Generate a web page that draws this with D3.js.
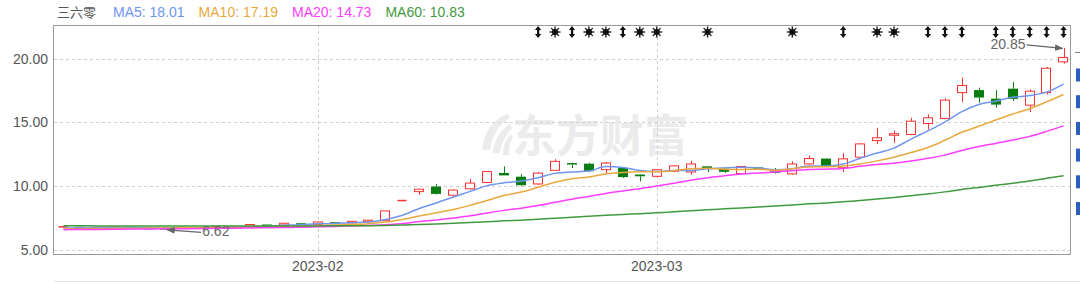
<!DOCTYPE html>
<html><head><meta charset="utf-8">
<script src="https://cdn.jsdelivr.net/npm/d3@7"></script>
<style>body{margin:0;background:#fff;overflow:hidden}svg{display:block;font-family:"Liberation Sans",Arial,sans-serif}</style>
</head><body><svg id="c" width="1080" height="283"></svg>
<script>
// ---- data ----
const stockName = "三六零";
const dates = ["01-04","01-05","01-06","01-09","01-10","01-11","01-12","01-13","01-16","01-17",
"01-18","01-19","01-20","01-30","01-31","02-01","02-02","02-03","02-06","02-07",
"02-08","02-09","02-10","02-13","02-14","02-15","02-16","02-17","02-20","02-21",
"02-22","02-23","02-24","02-27","02-28","03-01","03-02","03-03","03-06","03-07",
"03-08","03-09","03-10","03-13","03-14","03-15","03-16","03-17","03-20","03-21",
"03-22","03-23","03-24","03-27","03-28","03-29","03-30","03-31","04-03","04-04"];
const open = [6.74,6.82,6.78,6.76,6.79,6.74,6.72,6.70,6.76,6.76,
6.84,6.86,7.00,6.96,7.10,7.00,7.18,7.13,7.22,7.30,
8.88,9.58,9.98,9.30,9.80,10.30,11.04,10.75,10.18,11.25,
11.82,11.77,11.30,11.43,10.92,10.78,11.18,11.12,11.56,11.38,
11.00,11.48,11.17,10.97,11.75,12.17,11.45,12.28,13.58,14.00,
14.06,14.92,15.32,17.34,17.54,16.87,17.65,16.36,17.34,19.75];
const high = [6.86,6.84,6.82,6.82,6.80,6.78,6.75,6.78,6.80,6.86,
6.88,7.02,7.02,7.12,7.12,7.22,7.20,7.28,7.36,8.07,
8.88,9.77,10.17,9.75,10.57,11.20,11.56,10.95,11.10,12.12,
11.85,11.85,11.90,11.50,10.95,11.35,11.65,12.00,11.60,11.50,
11.60,11.52,11.43,11.95,12.40,12.20,12.61,13.40,14.58,14.37,
15.37,15.63,16.90,18.52,17.73,17.54,18.17,17.60,19.35,20.85];
const low = [6.70,6.76,6.74,6.74,6.72,6.70,6.62,6.68,6.72,6.74,
6.80,6.84,6.94,6.94,7.02,6.98,7.08,7.10,7.20,7.26,
8.88,9.33,9.35,9.25,9.75,10.25,10.85,10.00,10.10,11.20,
11.43,11.10,11.04,10.65,10.38,10.70,11.10,10.90,11.12,11.05,
10.95,11.30,11.00,10.90,11.70,11.50,11.12,12.20,13.32,13.40,
14.00,14.45,15.25,16.60,16.55,16.16,16.68,15.81,17.20,19.62];
const close = [6.82,6.78,6.76,6.79,6.74,6.72,6.70,6.76,6.74,6.84,
6.82,7.00,6.96,7.10,7.04,7.20,7.12,7.25,7.34,8.07,
8.88,9.77,9.40,9.70,10.25,11.15,10.85,10.08,11.03,11.95,
11.70,11.18,11.82,10.72,10.78,11.30,11.60,11.75,11.40,11.13,
11.55,11.36,11.05,11.75,12.17,11.57,12.15,13.32,13.80,14.12,
15.10,15.37,16.75,17.90,16.95,16.40,16.85,17.45,19.25,20.10];
const ma5 = [6.72,6.74,6.76,6.77,6.78,6.76,6.74,6.74,6.73,6.75,
6.77,6.83,6.87,6.94,6.98,7.06,7.08,7.14,7.19,7.40,
7.73,8.26,8.69,9.16,9.60,10.05,10.27,10.41,10.67,11.01,
11.12,11.19,11.54,11.47,11.24,11.16,11.24,11.23,11.37,11.44,
11.49,11.44,11.30,11.37,11.58,11.58,11.74,12.19,12.60,12.99,
13.70,14.34,15.03,15.85,16.41,16.67,16.97,17.11,17.38,18.01];
const ma10 = [6.66,6.67,6.69,6.70,6.71,6.72,6.73,6.74,6.75,6.77,
6.77,6.79,6.81,6.84,6.87,6.92,6.96,7.01,7.07,7.19,
7.40,7.67,7.92,8.18,8.50,8.89,9.27,9.55,9.92,10.31,
10.59,10.73,10.97,11.07,11.13,11.14,11.22,11.38,11.42,11.34,
11.32,11.34,11.26,11.37,11.51,11.53,11.59,11.75,11.99,12.28,
12.64,13.04,13.61,14.23,14.70,15.19,15.66,16.07,16.61,17.19];
const ma20 = [6.60,6.61,6.62,6.63,6.64,6.65,6.66,6.67,6.68,6.70,
6.71,6.73,6.75,6.77,6.79,6.82,6.85,6.89,6.93,6.98,
7.08,7.23,7.36,7.51,7.68,7.91,8.11,8.28,8.49,8.75,
8.99,9.20,9.44,9.63,9.81,10.02,10.24,10.47,10.67,10.82,
10.96,11.04,11.12,11.22,11.32,11.34,11.40,11.56,11.70,11.81,
11.98,12.19,12.44,12.80,13.11,13.36,13.62,13.91,14.30,14.73];
const ma60 = [6.90,6.90,6.89,6.89,6.89,6.88,6.88,6.88,6.88,6.88,
6.88,6.88,6.88,6.89,6.89,6.89,6.90,6.90,6.91,6.93,
6.96,7.01,7.05,7.10,7.15,7.22,7.29,7.34,7.41,7.49,
7.57,7.64,7.72,7.79,7.85,7.92,8.00,8.08,8.16,8.23,
8.30,8.38,8.45,8.53,8.62,8.69,8.78,8.89,9.00,9.12,
9.26,9.40,9.56,9.75,9.91,10.07,10.24,10.41,10.62,10.83];
const maNames = ["MA5","MA10","MA20","MA60"];
const yTicks = [5,10,15,20];
const xTickIdx = [15,35];
const xTickLabels = ["2023-02","2023-03"];
const markerIdx = [28,29,30,31,32,33,34,35,38,43,46,48,49,51,52,53,55,56,57,58,59];
const markerType = ["a","s","a","s","s","a","s","s","s","s","a","s","s","a","a","a","a","a","a","a","a"];
const sideBars = [0,1,2,3,4,5];

// ---- drawing ----
const svg = d3.select("#c");
const P = {l:54, t:25, r:1070, b:254};
const colors = {ma:["#6f95f2","#e8a83c","#ff3cff","#3f9a3f"], up:"#ff3030", down:"#0a7d12", text:"#555"};
const maData = [ma5, ma10, ma20, ma60];

const x = d3.scaleBand().domain(d3.range(dates.length)).range([55,1072]).paddingInner(0.4).paddingOuter(0.2);
const cx = i => x(i) + x.bandwidth()/2;
const y = d3.scaleLinear().domain([4.69, 22.64]).range([P.b, P.t]);

// watermark
const wm = svg.append("g").attr("fill","#ebebeb");
wm.append("path").attr("d","M508,114 C494,118 484,132 482,150 L490,150 C492,136 499,124 510,118 Z M510,124 C500,130 494,140 493,153 L500,153 C502,142 506,134 512,129 Z M511,134 C505,139 503,146 503,155 L509,155 C509,148 510,142 513,138 Z");
wm.append("text").attr("x",512).attr("y",152).attr("font-size",44).attr("font-weight","bold")
  .attr("font-family","'Noto Sans CJK SC',sans-serif").text("东方财富");

// grid
svg.append("g").selectAll("line").data(yTicks).join("line")
  .attr("x1",P.l).attr("x2",P.r).attr("y1",d=>Math.round(y(d))+0.5).attr("y2",d=>Math.round(y(d))+0.5)
  .attr("stroke","#cfcfcf").attr("stroke-dasharray","3,3");
svg.append("g").selectAll("line").data(xTickIdx).join("line")
  .attr("x1",d=>Math.round(cx(d))+0.5).attr("x2",d=>Math.round(cx(d))+0.5).attr("y1",P.t).attr("y2",P.b)
  .attr("stroke","#cfcfcf").attr("stroke-dasharray","3,3");

// axes
const ya = svg.append("g").attr("transform",`translate(${P.l},0)`)
  .call(d3.axisLeft(y).tickValues(yTicks).tickFormat(d3.format(".2f")).tickSize(0).tickPadding(6));
ya.select(".domain").remove();
ya.selectAll("text").attr("font-size",14).attr("fill",colors.text).attr("font-family","'Liberation Sans',Arial,sans-serif");
const xa = svg.append("g").attr("transform",`translate(0,${P.b})`)
  .call(d3.axisBottom(x).tickValues(xTickIdx).tickFormat((d,i)=>xTickLabels[i]).tickSize(0).tickPadding(7));
xa.select(".domain").remove();
xa.selectAll("text").attr("font-size",14).attr("fill",colors.text).attr("font-family","'Liberation Sans',Arial,sans-serif");

// border
svg.append("rect").attr("x",P.l-0.5).attr("y",P.t+0.5).attr("width",P.r-P.l+1).attr("height",P.b-P.t)
  .attr("fill","none").attr("stroke","#999");
svg.append("line").attr("x1",P.l).attr("x2",1080).attr("y1",281.5).attr("y2",281.5).attr("stroke","#e2e2e2");

// candles
const bw = x.bandwidth();
const cg = svg.append("g");
dates.forEach((d,i)=>{
  const up = close[i] >= open[i];
  const col = up ? colors.up : colors.down;
  const top = y(Math.max(open[i],close[i])), bot = y(Math.min(open[i],close[i]));
  const c = Math.round(cx(i)) + 0.5;
  const xl = Math.round(cx(i) - bw/2) + 0.5;
  const w = Math.round(bw) - 1;
  if (y(high[i]) < top) cg.append("line").attr("x1",c).attr("x2",c).attr("y1",y(high[i])).attr("y2",top).attr("stroke",col);
  if (y(low[i]) > bot) cg.append("line").attr("x1",c).attr("x2",c).attr("y1",bot).attr("y2",y(low[i])).attr("stroke",col);
  const h = Math.max(bot-top, 1);
  if (up) {
    if (bot - top < 1.5) cg.append("line").attr("x1",xl).attr("x2",xl+w).attr("y1",top).attr("y2",top).attr("stroke",col).attr("stroke-width",1.5);
    else cg.append("rect").attr("x",xl).attr("y",top).attr("width",w).attr("height",h).attr("fill","#fff").attr("stroke",col);
  } else {
    cg.append("rect").attr("x",xl-0.5).attr("y",top).attr("width",w+1).attr("height",Math.max(h,1.5)).attr("fill",col);
  }
});

// MA lines
maData.forEach((arr,k)=>{
  svg.append("path").datum(arr)
    .attr("d", d3.line().x((d,i)=>cx(i)).y(d=>y(d)).curve(d3.curveMonotoneX))
    .attr("fill","none").attr("stroke",colors.ma[k]).attr("stroke-width",1.5);
});

// legend
let lx = 57;
const lg = svg.append("g").attr("font-size",14);
lg.append("text").attr("x",lx).attr("y",17).attr("fill",colors.text)
  .attr("font-family","'Noto Sans CJK SC',sans-serif").attr("font-size",13).text(stockName);
lx = 113;
maNames.forEach((n,k)=>{
  const t = lg.append("text").attr("x",lx).attr("y",17).attr("fill",colors.ma[k])
    .text(`${n}: ${d3.format(".2f")(maData[k][maData[k].length-1])}`);
  lx += t.node().getComputedTextLength() + 14;
});

// top markers
const mg = svg.append("g").attr("fill","#111").attr("stroke","#111");
markerIdx.forEach((idx,j)=>{
  const c = cx(idx), my = 32;
  if (markerType[j] === "a") {
    mg.append("rect").attr("x",c-1).attr("y",my-4).attr("width",2.2).attr("height",8).attr("stroke","none");
    mg.append("path").attr("d",`M${c-3.2},${my-2}L${c+3.2},${my-2}L${c},${my-6}Z M${c-3.2},${my+2}L${c+3.2},${my+2}L${c},${my+6}Z`).attr("stroke","none");
  } else {
    mg.append("circle").attr("cx",c).attr("cy",my).attr("r",3).attr("stroke","none");
    for (let a=0;a<8;a++){
      const ang = a*Math.PI/4;
      mg.append("line").attr("x1",c).attr("y1",my).attr("x2",c+5.5*Math.cos(ang)).attr("y2",my+5.5*Math.sin(ang)).attr("stroke-width",1.3);
    }
  }
});

// high / low annotations
const defs = svg.append("defs");
defs.append("marker").attr("id","ah").attr("viewBox","0 0 10 10").attr("refX",9).attr("refY",5)
  .attr("markerWidth",7).attr("markerHeight",7).attr("orient","auto")
  .append("path").attr("d","M0,1L10,5L0,9Z").attr("fill","#666");
const hi = d3.maxIndex(high), lo = d3.minIndex(low);
const ag = svg.append("g").attr("font-size",14).attr("fill","#666");
ag.append("text").attr("x",cx(hi)-38).attr("y",y(high[hi])+1).attr("text-anchor","end").text(high[hi].toFixed(2));
ag.append("line").attr("x1",cx(hi)-37).attr("y1",y(high[hi])-3).attr("x2",cx(hi)-1).attr("y2",y(high[hi])+0.5)
  .attr("stroke","#666").attr("stroke-width",1.2).attr("marker-end","url(#ah)");
ag.append("text").attr("x",cx(lo)+37).attr("y",y(low[lo])+7).text(low[lo].toFixed(2));
ag.append("line").attr("x1",cx(lo)+36).attr("y1",y(low[lo])+3).attr("x2",cx(lo)+2).attr("y2",y(low[lo])+0.5)
  .attr("stroke","#666").attr("stroke-width",1.2).attr("marker-end","url(#ah)");

// right-side cut-off panel marks
svg.append("line").attr("x1",1075).attr("x2",1080).attr("y1",52.5).attr("y2",52.5).attr("stroke","#888");
svg.append("g").selectAll("rect").data(sideBars).join("rect")
  .attr("x",1076).attr("width",4).attr("y",d=>68.5+d*26.7).attr("height",13).attr("fill","#2a5fbd");
</script></body></html>
